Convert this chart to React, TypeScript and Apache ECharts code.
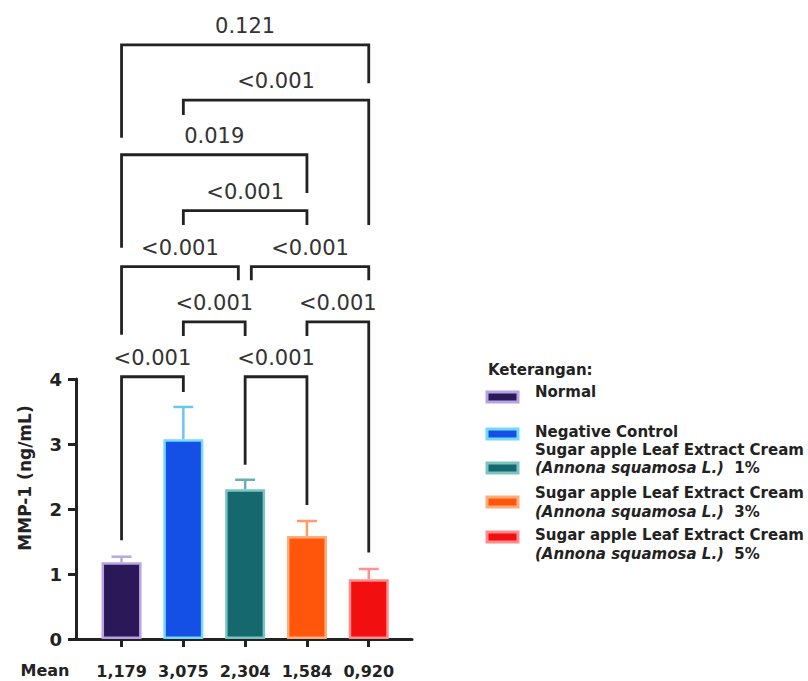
import React, { useEffect, useRef } from "react";
import * as echarts from "echarts";

// ---- Data ----
const categories = ["Normal", "Negative Control", "SALEC 1%", "SALEC 3%", "SALEC 5%"];
const meanValues = [1.179, 3.075, 2.304, 1.584, 0.92];
const sdTops = [1.266, 3.57, 2.45, 1.815, 1.077];
const meanLabels = ["1,179", "3,075", "2,304", "1,584", "0,920"];
const yTicks = [0, 1, 2, 3, 4];
const xTicks = [0, 1, 2, 3, 4];
const barColors = ["#2a1858", "#1550e6", "#15686e", "#ff560c", "#f20f0f"];
const barBorders = ["#b7a2e2", "#74d8ff", "#7cc4c4", "#ffac7c", "#ff8c8c"];
const errColors = ["#b9a8dc", "#6cc6f4", "#6aaeb0", "#ff9c68", "#ff9090"];
// brackets: [xLeft, xRight, level, leftLegBottom, rightLegBottom]
const brackets = [
  [0, 4, 9.14, 7.71, 8.55],
  [1, 4, 8.29, 8.06, 6.37],
  [0, 3, 7.45, 6.02, 6.86],
  [1, 3, 6.59, 6.37, 6.37],
  [0, 1.89, 5.73, 4.68, 5.52],
  [2.1, 4, 5.73, 5.52, 5.52],
  [1, 2, 4.88, 4.66, 4.66],
  [3, 4, 4.88, 4.66, 1.33],
  [0, 1, 4.035, 1.52, 3.8],
  [2, 3, 4.035, 2.68, 2.06],
];
const pLabels = ["0.121", "<0.001", "0.019", "<0.001", "<0.001", "<0.001", "<0.001", "<0.001", "<0.001", "<0.001"];
const legendLines = [
  ["Normal"],
  ["Negative Control"],
  ["Sugar apple Leaf Extract Cream", "(Annona squamosa L.)", "  1%"],
  ["Sugar apple Leaf Extract Cream", "(Annona squamosa L.)", "  3%"],
  ["Sugar apple Leaf Extract Cream", "(Annona squamosa L.)", "  5%"],
];

const FONT = '"DejaVu Sans", sans-serif';

export default function App() {
  const ref = useRef<HTMLDivElement>(null);
  useEffect(() => {
    if (!ref.current) return;
    const chart = echarts.init(ref.current, null, { renderer: "svg" });

    const legendPatchY = [397, 434, 468, 502, 537];
    const legendTextY = [[392], [432], [450, 468], [493, 512], [535, 554]];
    const graphics: any[] = [
      {
        type: "text",
        x: 25,
        y: 478,
        rotation: Math.PI / 2,
        style: { text: "MMP-1 (ng/mL)", font: `bold 17px ${FONT}`, fill: "#222", align: "center", verticalAlign: "middle" },
      },
      {
        type: "text",
        x: 45,
        y: 670,
        style: { text: "Mean", font: `bold 16px ${FONT}`, fill: "#222", align: "center", verticalAlign: "middle" },
      },
      {
        type: "text",
        x: 488,
        y: 370,
        style: { text: "Keterangan:", font: `bold 15px ${FONT}`, fill: "#222", align: "left", verticalAlign: "middle" },
      },
    ];
    legendLines.forEach((ln, i) => {
      graphics.push({
        type: "rect",
        shape: { x: 487, y: legendPatchY[i] - 5, width: 31, height: 10 },
        style: { fill: barColors[i], stroke: barBorders[i], lineWidth: 3 },
      });
      graphics.push({
        type: "text",
        x: 535,
        y: legendTextY[i][0],
        style: { text: ln[0], font: `bold 15px ${FONT}`, fill: "#222", align: "left", verticalAlign: "middle" },
      });
      if (ln.length > 1) {
        graphics.push({
          type: "text",
          x: 535,
          y: legendTextY[i][1],
          style: {
            text: `{i|${ln[1]}}{n|${ln[2]}}`,
            align: "left",
            verticalAlign: "middle",
            rich: {
              i: { font: `italic bold 15px ${FONT}`, fill: "#222" },
              n: { font: `bold 15px ${FONT}`, fill: "#222" },
            },
          },
        });
      }
    });

    chart.setOption({
      animation: false,
      grid: { left: 76, right: 396, top: 379, bottom: 42 },
      xAxis: {
        type: "value",
        min: -0.737,
        max: 4.7,
        splitLine: { show: false },
        axisLine: { show: true, onZero: false, lineStyle: { color: "#222", width: 3 } },
        axisTick: { show: true, customValues: xTicks, length: 8, lineStyle: { color: "#222", width: 3 } },
        axisLabel: {
          show: true,
          customValues: xTicks,
          margin: 24,
          formatter: (v: number) => meanLabels[Math.round(v)] ?? "",
          fontFamily: FONT,
          fontWeight: "bold",
          fontSize: 16,
          color: "#222",
        },
      },
      yAxis: {
        type: "value",
        min: 0,
        max: 4,
        interval: 1,
        splitLine: { show: false },
        axisLine: { show: true, onZero: false, lineStyle: { color: "#222", width: 3 } },
        axisTick: { show: true, customValues: yTicks, length: 8, lineStyle: { color: "#222", width: 3 } },
        axisLabel: {
          customValues: yTicks,
          margin: 14,
          fontFamily: FONT,
          fontWeight: "bold",
          fontSize: 18,
          color: "#222",
        },
      },
      graphic: graphics,
      series: [
        {
          type: "custom",
          name: "SD",
          clip: false,
          z: 1,
          data: meanValues.map((m, i) => [i, m, sdTops[i]]),
          renderItem: (params: any, api: any) => {
            const i = params.dataIndex;
            const b = api.coord([api.value(0), api.value(1)]);
            const t = api.coord([api.value(0), api.value(2)]);
            const st = { stroke: errColors[i], lineWidth: 2.5 };
            return {
              type: "group",
              children: [
                { type: "line", shape: { x1: b[0], y1: b[1], x2: t[0], y2: t[1] }, style: st },
                { type: "line", shape: { x1: t[0] - 10, y1: t[1], x2: t[0] + 10, y2: t[1] }, style: st },
              ],
            };
          },
        },
        {
          type: "bar",
          name: "MMP-1",
          barWidth: 40,
          z: 2,
          data: meanValues.map((m, i) => ({
            value: [i, m],
            itemStyle: { color: barColors[i], borderColor: barBorders[i], borderWidth: 2.5 },
          })),
        },
        {
          type: "custom",
          name: "p-values",
          clip: false,
          z: 3,
          data: brackets,
          renderItem: (params: any, api: any) => {
            const i = params.dataIndex;
            const x1 = api.value(0), x2 = api.value(1), lv = api.value(2);
            const pL = api.coord([x1, lv]);
            const pR = api.coord([x2, lv]);
            const l1 = api.coord([x1, api.value(3)]);
            const r1 = api.coord([x2, api.value(4)]);
            return {
              type: "group",
              children: [
                {
                  type: "polyline",
                  shape: { points: [l1, pL, pR, r1] },
                  style: { stroke: "#222", lineWidth: 2.8, fill: null, lineJoin: "miter" },
                },
                {
                  type: "text",
                  x: (pL[0] + pR[0]) / 2,
                  y: pL[1] - 19,
                  style: {
                    text: pLabels[i],
                    font: `21px ${FONT}`,
                    fill: "#333",
                    align: "center",
                    verticalAlign: "middle",
                  },
                },
              ],
            };
          },
        },
      ],
    });
    return () => chart.dispose();
  }, []);
  return <div ref={ref} style={{ width: 808, height: 681, position: "absolute", left: 0, top: 0 }} />;
}
